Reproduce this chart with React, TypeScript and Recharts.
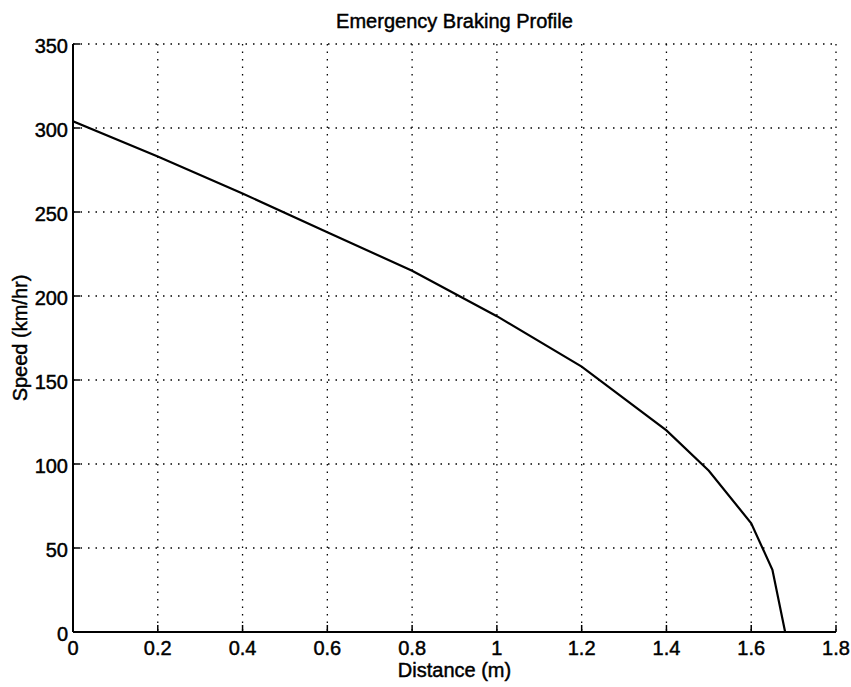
import React from "react";
import { LineChart, Line, XAxis, YAxis, CartesianGrid } from "recharts";

const distance = [0, 0.2, 0.4, 0.6, 0.8, 1.0, 1.2, 1.4, 1.5, 1.6, 1.65, 1.68];
const speed = [304, 283, 261, 238, 215, 188, 158, 120, 96, 64.7, 37, 0];
const xTicks = [0, 0.2, 0.4, 0.6, 0.8, 1, 1.2, 1.4, 1.6, 1.8];
const yTicks = [0, 50, 100, 150, 200, 250, 300, 350];

const title = "Emergency Braking Profile";
const xLabel = "Distance (m)";
const yLabel = "Speed (km/hr)";

const data = distance.map((d, i) => ({ d, s: speed[i] }));

const FONT = "Arial, 'Liberation Sans', Helvetica, sans-serif";
const TL = 7;
const textStroke = { stroke: "#000", strokeWidth: 0.45 };
const htmlStroke: any = { WebkitTextStroke: "0.45px #000" };

const BottomTick = (props: any) => {
  const { x, y, payload } = props;
  return (
    <g>
      <line x1={x} y1={y} x2={x} y2={y - TL} stroke="#000" strokeWidth={1.5} />
      <text x={x} y={y + 9} dy="0.71em" textAnchor="middle" fontSize={20} fontFamily={FONT} fill="#000" {...textStroke}>
        {String(payload.value)}
      </text>
    </g>
  );
};
const TopTick = (props: any) => {
  const { x, y } = props;
  return <line x1={x} y1={y} x2={x} y2={y + TL} stroke="#000" strokeWidth={1.5} />;
};
const LeftTick = (props: any) => {
  const { x, y, payload } = props;
  return (
    <g>
      <line x1={x} y1={y} x2={x + TL} y2={y} stroke="#000" strokeWidth={1.5} />
      <text x={x - 5} y={y + 2} dy="0.355em" textAnchor="end" fontSize={20} fontFamily={FONT} fill="#000" {...textStroke}>
        {String(payload.value)}
      </text>
    </g>
  );
};
const RightTick = (props: any) => {
  const { x, y } = props;
  return <line x1={x} y1={y} x2={x - TL} y2={y} stroke="#000" strokeWidth={1.5} />;
};

export default function App() {
  return (
    <div
      style={{
        position: "fixed",
        left: 0,
        top: 0,
        width: 851,
        height: 687,
        overflow: "hidden",
        fontFamily: FONT,
        background: "#fff",
      }}
    >
      <LineChart
        width={851}
        height={687}
        data={data}
        margin={{ top: 44, right: 15, bottom: 0, left: 0 }}
      >
        <CartesianGrid stroke="#000" strokeDasharray="1.5 6" strokeWidth={1.3} />
        <XAxis
          dataKey="d"
          type="number"
          domain={[0, 1.8]}
          ticks={xTicks}
          height={55}
          tickSize={0}
          tickMargin={0}
          tick={<BottomTick />}
          axisLine={{ stroke: "#000", strokeWidth: 2 }}
          interval={0}
          allowDataOverflow
        />
        <XAxis
          xAxisId="top"
          orientation="top"
          dataKey="d"
          type="number"
          domain={[0, 1.8]}
          ticks={xTicks}
          height={0}
          tickSize={0}
          tickMargin={0}
          tick={<TopTick />}
          axisLine={{ stroke: "#000", strokeWidth: 2 }}
          interval={0}
          allowDataOverflow
        />
        <YAxis
          type="number"
          domain={[0, 350]}
          ticks={yTicks}
          width={73}
          tickSize={0}
          tickMargin={0}
          tick={<LeftTick />}
          axisLine={{ stroke: "#000", strokeWidth: 2 }}
          interval={0}
          allowDataOverflow
        />
        <YAxis
          yAxisId="right"
          orientation="right"
          type="number"
          domain={[0, 350]}
          ticks={yTicks}
          width={0}
          tickSize={0}
          tickMargin={0}
          tick={<RightTick />}
          axisLine={{ stroke: "#000", strokeWidth: 2 }}
          interval={0}
          allowDataOverflow
        />
        <Line
          dataKey="s"
          type="linear"
          stroke="#000"
          strokeWidth={2.2}
          dot={false}
          isAnimationActive={false}
        />
      </LineChart>
      <div
        style={{
          position: "absolute",
          left: 73,
          width: 763,
          top: 9,
          textAlign: "center",
          fontSize: 20,
          lineHeight: "24px",
          color: "#000",
          ...htmlStroke,
        }}
      >
        {title}
      </div>
      <div
        style={{
          position: "absolute",
          left: 73,
          width: 763,
          top: 658,
          textAlign: "center",
          fontSize: 20,
          lineHeight: "24px",
          color: "#000",
          ...htmlStroke,
        }}
      >
        {xLabel}
      </div>
      <div
        style={{
          position: "absolute",
          left: 20 - 100,
          top: 338 - 12,
          width: 200,
          height: 24,
          textAlign: "center",
          fontSize: 20,
          lineHeight: "24px",
          color: "#000",
          transform: "rotate(-90deg)",
          transformOrigin: "100px 12px",
          ...htmlStroke,
        }}
      >
        {yLabel}
      </div>
    </div>
  );
}
